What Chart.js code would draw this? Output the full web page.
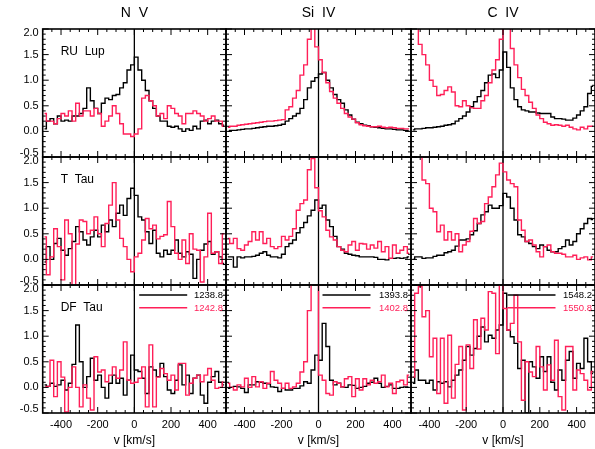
<!DOCTYPE html>
<html>
<head>
<meta charset="utf-8">
<script src="https://cdn.jsdelivr.net/npm/chart.js@4.4.0/dist/chart.umd.min.js"></script>
<style>
  html, body { margin: 0; padding: 0; background: #fff; }
  #plots { position: relative; width: 595px; height: 449px; overflow: hidden; background: #fff; }
  #plots canvas { position: absolute; left: 0; top: 0; }
</style>
</head>
<body>
<div id="plots"></div>
<script>
// bin centres, km/s
const velocity = [-490,-470,-450,-430,-410,-390,-370,-350,-330,-310,-290,-270,-250,-230,-210,-190,-170,-150,-130,-110,
  -90,-70,-50,-30,-10,10,30,50,70,90,110,130,150,170,190,210,230,250,270,290,
  310,330,350,370,390,410,430,450,470,490];

const lineNames = ['N  V', 'Si  IV', 'C  IV'];
const starNames = ['RU  Lup', 'T  Tau', 'DF  Tau'];
const wavelengths = [['1238.8', '1242.8'], ['1393.8', '1402.8'], ['1548.2', '1550.8']];
const velocityTicks = [-400, -200, 0, 200, 400];

// normalised fluxes, RU Lup
const ruLupNV1238 = [0.05,0.2,0.25,0.15,0.3,0.2,0.22,0.2,0.3,0.3,0.35,0.45,0.85,0.6,0.45,0.35,0.55,0.65,0.62,0.7,
  0.72,0.85,0.95,1.2,1.3,1.45,1.2,1.0,0.8,0.6,0.45,0.3,0.2,0.2,0.1,0.08,0.1,0.05,0.0,0.05,
  0.02,0.1,0.05,0.2,0.22,0.15,0.2,0.22,0.15,0.12];
const ruLupNV1242 = [0.35,0.2,0.2,0.15,0.25,0.35,0.3,0.4,0.2,0.55,0.3,0.4,0.4,0.3,0.45,0.35,0.1,0.2,0.3,0.5,
  0.35,0.15,-0.05,-0.05,-0.1,-0.05,0.05,0.65,0.7,0.6,0.5,0.3,0.35,0.25,0.5,0.45,0.35,0.3,0.15,0.35,
  0.35,0.4,0.35,0.3,0.2,0.25,0.3,0.2,0.2,0.1];
const ruLupSi1393 = [0.0,0.02,0.02,0.03,0.04,0.05,0.05,0.06,0.07,0.08,0.09,0.1,0.1,0.11,0.12,0.14,0.2,0.25,0.3,0.35,
  0.45,0.62,0.85,0.98,1.05,1.12,1.15,1.0,0.85,0.72,0.62,0.55,0.42,0.32,0.24,0.18,0.15,0.12,0.11,0.09,
  0.08,0.07,0.06,0.05,0.05,0.04,0.03,0.03,0.02,0.01];
const ruLupSi1402 = [0.08,0.1,0.1,0.12,0.13,0.14,0.15,0.16,0.17,0.18,0.19,0.2,0.2,0.21,0.22,0.23,0.42,0.48,0.65,0.8,
  1.1,1.3,1.8,2.3,1.65,1.4,1.15,0.95,0.78,0.65,0.55,0.45,0.35,0.28,0.24,0.17,0.13,0.11,0.1,0.09,
  0.09,0.1,0.08,0.07,0.08,0.07,0.06,0.06,0.05,0.05];
const ruLupC1548 = [0.03,0.05,0.05,0.06,0.07,0.07,0.08,0.09,0.1,0.12,0.13,0.15,0.2,0.25,0.3,0.38,0.48,0.58,0.68,0.8,
  0.95,1.1,1.12,1.05,1.2,1.55,1.25,0.85,0.62,0.48,0.42,0.4,0.38,0.38,0.36,0.35,0.35,0.35,0.28,0.25,
  0.25,0.24,0.22,0.22,0.26,0.32,0.4,0.48,0.74,0.88];
const ruLupC1550 = [2.5,2.5,1.7,1.5,1.3,1.0,0.88,0.7,0.72,0.8,0.87,0.77,0.5,0.48,0.6,0.5,0.46,0.45,0.45,0.6,
  0.7,0.95,1.2,1.4,1.8,2.3,2.1,1.62,1.3,1.05,0.82,0.7,0.57,0.45,0.32,0.25,0.18,0.15,0.12,0.13,
  0.12,0.1,0.12,0.08,0.05,0.03,0.08,0.05,0.1,0.1];

// T Tau
const tTauNV1238 = [-0.05,0.25,0.0,0.31,0.41,0.18,0.08,0.21,0.35,0.64,0.54,0.38,0.28,0.44,0.57,0.44,0.67,0.54,0.77,0.64,
  0.9,1.06,0.86,1.19,1.39,1.25,0.83,0.77,0.54,0.31,0.57,0.12,0.05,0.18,0.1,0.18,0.38,0.12,0.05,0.15,
  0.1,-0.37,0.0,0.18,0.3,0.35,0.1,0.15,0.05,-0.08];
const tTauNV1242 = [0.44,-0.3,0.05,0.6,0.25,-0.4,0.77,0.5,-0.55,0.3,0.77,0.74,0.5,0.57,0.83,0.5,0.25,0.7,1.06,1.5,
  0.77,0.41,0.25,0.0,-0.24,0.05,0.12,0.38,0.8,0.6,0.67,0.4,0.45,0.48,1.13,0.64,0.12,0.0,0.38,-0.08,
  0.5,0.2,0.18,-0.44,0.05,0.9,0.12,0.15,-0.08,0.5];
const tTauSi1393 = [0.05,0.05,-0.15,0.05,0.03,0.05,0.05,0.06,0.08,0.12,0.15,0.08,0.05,0.05,0.03,0.1,0.25,0.31,0.38,0.52,
  0.62,0.72,0.85,0.96,1.16,1.0,1.06,0.77,0.64,0.45,0.25,0.2,0.12,0.1,0.08,0.07,0.05,0.05,0.05,0.05,
  0.04,0.0,0.0,-0.01,0.02,0.02,0.03,0.02,0.03,0.05];
const tTauSi1402 = [0.41,0.31,0.41,0.21,0.18,0.28,0.35,0.54,0.38,0.54,0.31,0.41,0.25,0.21,0.25,0.45,0.38,0.45,0.6,0.96,
  1.09,1.16,1.75,1.97,1.4,0.95,0.83,0.57,0.44,0.38,0.25,0.18,0.15,0.28,0.35,0.18,0.31,0.3,0.2,0.28,
  0.22,0.35,0.15,0.25,0.02,0.28,0.12,0.18,0.25,0.12];
const tTauC1548 = [0.0,0.05,0.05,0.02,0.03,0.03,0.06,0.08,0.08,0.13,0.15,0.18,0.26,0.38,0.38,0.4,0.48,0.56,0.7,0.87,
  0.93,1.06,1.0,1.0,1.05,1.29,1.22,1.0,0.77,0.48,0.44,0.35,0.31,0.25,0.21,0.28,0.25,0.18,0.15,0.15,
  0.21,0.25,0.38,0.28,0.35,0.5,0.6,0.7,0.8,0.78];
const tTauC1550 = [2.5,2.5,2.1,1.55,1.48,1.0,0.93,0.54,0.67,0.38,0.54,0.38,0.5,0.15,0.28,0.35,0.55,0.8,0.7,0.74,
  1.09,1.22,1.42,1.65,1.88,1.71,1.55,1.48,1.42,0.77,0.57,0.35,0.38,0.28,0.15,0.05,0.25,0.28,0.15,0.12,
  0.12,0.1,0.05,0.05,0.08,0.0,0.03,0.05,-0.01,0.05];

// DF Tau
const dfTauNV1238 = [0.05,0.02,0.08,0.02,0.05,0.14,-0.05,0.08,0.45,1.22,0.5,0.0,0.21,0.57,0.14,0.24,0.0,-0.21,0.08,0.24,
  0.08,0.18,-0.15,0.14,0.63,0.34,0.31,0.18,-0.12,0.4,0.34,0.21,0.47,0.21,-0.05,-0.12,0.14,0.44,0.05,0.24,
  -0.12,0.18,0.24,-0.15,-0.31,0.1,0.21,0.31,0.1,0.05];
const dfTauNV1242 = [0.0,0.02,0.53,-0.18,0.5,0.2,-0.48,0.0,0.4,0.0,-0.38,0.05,-0.21,-0.44,0.6,0.3,0.34,0.11,0.24,0.4,
  0.18,0.34,0.89,0.14,0.08,0.1,0.18,0.4,-0.38,0.83,-0.38,0.2,0.37,0.27,0.14,0.24,-0.05,0.47,0.47,-0.15,
  0.08,0.18,0.24,0.11,0.24,0.37,0.14,-0.02,0.0,0.1];
const dfTauSi1393 = [-0.02,0.0,0.02,0.01,-0.02,-0.1,0.05,0.05,0.11,0.1,0.08,0.07,0.01,0.0,-0.08,-0.02,-0.05,-0.05,-0.02,-0.02,
  0.03,0.11,0.08,0.34,0.63,0.53,1.25,0.8,0.14,0.05,0.08,0.01,0.0,0.05,0.04,-0.02,0.0,0.02,0.08,0.1,
  0.18,0.08,0.0,0.02,0.05,-0.02,-0.02,0.0,0.01,0.0];
const dfTauSi1402 = [0.08,0.0,-0.05,0.05,0.01,0.18,0.0,0.21,0.01,0.11,-0.02,0.08,0.31,0.14,0.08,-0.02,0.08,-0.02,0.01,0.08,
  0.3,0.5,1.5,2.5,2.5,0.24,0.14,-0.12,-0.15,0.11,0.08,0.01,0.17,0.21,-0.18,0.17,-0.05,0.17,0.05,0.14,
  0.08,0.11,0.24,0.01,0.08,-0.12,0.11,0.14,0.05,0.24];
const dfTauC1548 = [0.08,0.34,0.14,0.14,0.08,0.14,-0.05,0.11,0.08,0.11,0.01,0.14,0.24,0.34,0.53,0.8,0.63,0.76,1.0,1.18,
  0.89,1.02,0.96,1.12,1.22,1.84,1.12,0.99,0.86,0.37,0.53,-0.5,0.5,0.4,0.18,0.6,0.31,0.6,0.1,-0.05,
  0.34,0.14,0.53,0.7,0.18,0.47,0.37,0.96,0.5,0.27];
const dfTauC1550 = [0.2,1.84,1.97,1.38,1.5,0.6,0.96,-0.12,0.96,-0.31,1.02,-0.21,0.45,0.8,-0.44,0.83,0.37,1.32,0.75,1.35,
  1.12,1.87,1.84,0.66,2.1,1.54,1.12,1.25,1.8,0.89,-0.25,0.5,0.3,0.21,0.8,0.4,-0.05,0.44,0.14,0.92,
  -0.18,-0.44,0.8,0.8,-0.05,0.34,0.27,0.14,-0.05,0.31];

// rows = stars, columns = ions; [strong component, weak component]
const panels = [
  [[ruLupNV1238, ruLupNV1242], [ruLupSi1393, ruLupSi1402], [ruLupC1548, ruLupC1550]],
  [[tTauNV1238, tTauNV1242], [tTauSi1393, tTauSi1402], [tTauC1548, tTauC1550]],
  [[dfTauNV1238, dfTauNV1242], [dfTauSi1393, dfTauSi1402], [dfTauC1548, dfTauC1550]]
];

const W = 595, H = 449;
const colLeft = [42.7, 226, 411], colRight = [226, 411, 596];
const rowTop = [29, 157, 285], rowBottom = [157, 285, 413];
const RED = '#ff1f58';
const FONT = '"Liberation Sans", Arial, Helvetica, sans-serif';

Chart.defaults.font.family = FONT;
Chart.defaults.color = '#000';

// box, inward ticks and the v = 0 marker
const frameTicks = {
  id: 'frameTicks',
  beforeDatasetsDraw(chart) {
    const {ctx, chartArea: a} = chart;
    const x0 = chart.scales.x.getPixelForValue(0);
    ctx.save();
    ctx.strokeStyle = '#000';
    ctx.lineWidth = 1.3;
    ctx.beginPath();
    ctx.moveTo(x0, a.top);
    ctx.lineTo(x0, a.bottom);
    ctx.stroke();
    ctx.restore();
  },
  afterDatasetsDraw(chart) {
    const {ctx, chartArea: a, scales: {x, y}} = chart;
    ctx.save();
    ctx.strokeStyle = '#000';
    ctx.lineWidth = 1.6;
    ctx.strokeRect(a.left, a.top, a.right - a.left, a.bottom - a.top);
    ctx.lineWidth = 1;
    ctx.beginPath();
    for (let v = -500; v <= 500; v += 50) {
      const px = x.getPixelForValue(v);
      const len = v % 200 === 0 ? 6 : 3;
      ctx.moveTo(px, a.bottom); ctx.lineTo(px, a.bottom - len);
      ctx.moveTo(px, a.top); ctx.lineTo(px, a.top + len);
    }
    for (let k = -5; k <= 20; k++) {
      const py = y.getPixelForValue(k / 10);
      const len = k % 5 === 0 ? 6 : 3;
      ctx.moveTo(a.left, py); ctx.lineTo(a.left + len, py);
      ctx.moveTo(a.right, py); ctx.lineTo(a.right - len, py);
    }
    ctx.stroke();
    ctx.restore();
  }
};

// star name and the doublet key
function panelText(row, col) {
  return {
    id: 'panelText',
    afterDatasetsDraw(chart) {
      const {ctx, chartArea: a} = chart;
      ctx.save();
      ctx.textBaseline = 'middle';
      if (col === 0) {
        ctx.font = '12px ' + FONT;
        ctx.fillStyle = '#000';
        ctx.textAlign = 'left';
        ctx.fillText(starNames[row], a.left + 18, a.top + 23);
      }
      if (row === 2) {
        ctx.font = '9.5px ' + FONT;
        ctx.textAlign = 'right';
        wavelengths[col].forEach((w, i) => {
          const ly = a.top + 10 + i * 12.7;
          const c = i ? RED : '#000';
          ctx.strokeStyle = c;
          ctx.lineWidth = 1.4;
          ctx.beginPath();
          ctx.moveTo(a.left + 96.5, ly);
          ctx.lineTo(a.left + 144.5, ly);
          ctx.stroke();
          ctx.fillStyle = c;
          ctx.fillText(w, a.right - 3, ly + 0.5);
        });
      }
      ctx.restore();
    }
  };
}

const holder = document.getElementById('plots');

panels.forEach((cols, row) => {
  cols.forEach((pair, col) => {
    const canvas = document.createElement('canvas');
    canvas.width = W;
    canvas.height = H;
    holder.appendChild(canvas);

    const showX = row === 2;
    const showY = col === 0;
    const toPoints = vals => velocity.map((v, i) => ({x: v, y: vals[i]}));

    new Chart(canvas, {
      type: 'line',
      data: {
        datasets: [
          {data: toPoints(pair[0]), borderColor: '#000', borderWidth: 1.4, stepped: 'middle',
            pointRadius: 0, fill: false, order: 1},
          {data: toPoints(pair[1]), borderColor: RED, borderWidth: 1.4, stepped: 'middle',
            pointRadius: 0, fill: false, order: 0}
        ]
      },
      options: {
        responsive: false,
        animation: false,
        events: [],
        layout: {
          autoPadding: false,
          padding: {
            left: showY ? 0 : colLeft[col],
            right: W - colRight[col],
            top: row === 0 ? 0 : rowTop[row],
            bottom: showX ? 0 : H - rowBottom[row]
          }
        },
        plugins: {
          legend: {display: false},
          tooltip: {enabled: false},
          title: {
            display: row === 0,
            text: lineNames[col],
            fullSize: false,
            color: '#000',
            font: {size: 14, weight: 'normal'},
            padding: {top: 5, bottom: 7.2}
          }
        },
        scales: {
          x: {
            type: 'linear',
            min: -500,
            max: 500,
            display: showX,
            grid: {display: false, drawTicks: false},
            border: {display: false},
            afterBuildTicks: s => { s.ticks = velocityTicks.map(v => ({value: v})); },
            afterFit: s => { s.height = showX ? H - rowBottom[2] : 0; s.paddingLeft = 0; s.paddingRight = 0; },
            ticks: {padding: 5, maxRotation: 0, autoSkip: false, color: '#000',
              font: {size: 11}, callback: v => String(v)},
            title: {display: true, text: 'v [km/s]', color: '#000', font: {size: 12},
              padding: {top: 0, bottom: 1}}
          },
          y: {
            min: -0.5,
            max: 2.0,
            display: showY,
            grid: {display: false, drawTicks: false},
            border: {display: false},
            afterFit: s => { s.width = showY ? colLeft[0] : 0; s.paddingTop = 0; s.paddingBottom = 0; },
            ticks: {
              stepSize: 0.5,
              autoSkip: false,
              padding: 4,
              color: '#000',
              font: {size: 11, lineHeight: 0.8},
              // end labels sit just inside the frame
              callback: v => {
                const s = v.toFixed(1);
                if (v >= 2) return ['', s];
                if (v <= -0.5) return [s, ''];
                return s;
              }
            }
          }
        }
      },
      plugins: [frameTicks, panelText(row, col)]
    });
  });
});
</script>
</body>
</html>
